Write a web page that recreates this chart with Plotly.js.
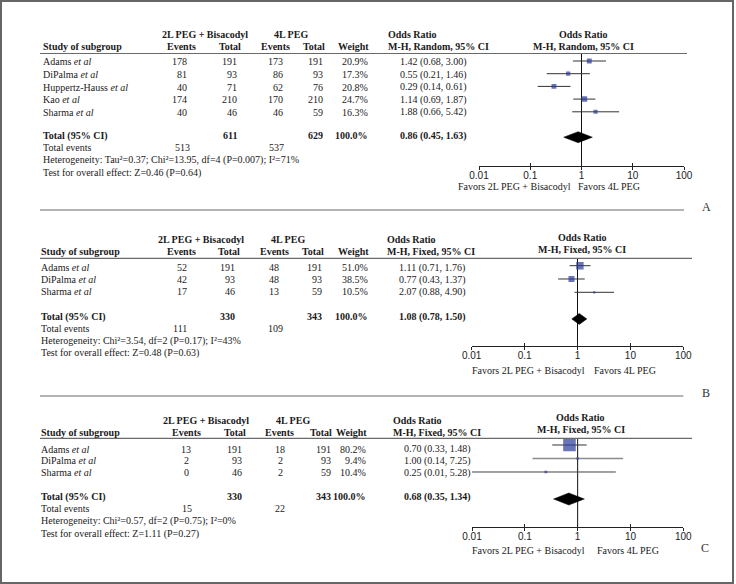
<!DOCTYPE html>
<html><head><meta charset="utf-8">
<script src="https://cdn.plot.ly/plotly-3.0.1.min.js"></script>
<style>html,body{margin:0;padding:0;background:#fff}#chart{width:736px;height:584px}</style>
</head><body><div id="chart"></div>
<script>
// ---------------- DATA ----------------
const groupLabels = ["2L PEG + Bisacodyl", "4L PEG"];
const favorsLabels = ["Favors 2L PEG + Bisacodyl", "Favors 4L PEG"];
const tickVals = [0.01, 0.1, 1, 10, 100];
const tickText = ["0.01", "0.1", "1", "10", "100"];
const panelLetters = ["A", "B", "C"];

// Panel A
const studiesA = ["Adams", "DiPalma", "Huppertz-Hauss", "Kao", "Sharma"];
const ev1A = [178, 81, 40, 174, 40];
const tot1A = [191, 93, 71, 210, 46];
const ev2A = [173, 86, 62, 170, 46];
const tot2A = [191, 93, 76, 210, 59];
const weightA = [20.9, 17.3, 20.8, 24.7, 16.3];
const orA = [1.42, 0.55, 0.29, 1.14, 1.88];
const loA = [0.68, 0.21, 0.14, 0.69, 0.66];
const hiA = [3.00, 1.46, 0.61, 1.87, 5.42];
const totalsA = [611, 629];
const totalEventsA = [513, 537];
const pooledA = [0.86, 0.45, 1.63];
const methodA = "M-H, Random, 95% CI";
const hetA = "Heterogeneity: Tau²=0.37; Chi²=13.95, df=4 (P=0.007); I²=71%";
const testA = "Test for overall effect: Z=0.46 (P=0.64)";

// Panel B
const studiesB = ["Adams", "DiPalma", "Sharma"];
const ev1B = [52, 42, 17];
const tot1B = [191, 93, 46];
const ev2B = [48, 48, 13];
const tot2B = [191, 93, 59];
const weightB = [51.0, 38.5, 10.5];
const orB = [1.11, 0.77, 2.07];
const loB = [0.71, 0.43, 0.88];
const hiB = [1.76, 1.37, 4.90];
const totalsB = [330, 343];
const totalEventsB = [111, 109];
const pooledB = [1.08, 0.78, 1.50];
const methodB = "M-H, Fixed, 95% CI";
const hetB = "Heterogeneity: Chi²=3.54, df=2 (P=0.17); I²=43%";
const testB = "Test for overall effect: Z=0.48 (P=0.63)";

// Panel C
const studiesC = ["Adams", "DiPalma", "Sharma"];
const ev1C = [13, 2, 0];
const tot1C = [191, 93, 46];
const ev2C = [18, 2, 2];
const tot2C = [191, 93, 59];
const weightC = [80.2, 9.4, 10.4];
const orC = [0.70, 1.00, 0.25];
const loC = [0.33, 0.14, 0.01];
const hiC = [1.48, 7.25, 5.28];
const totalsC = [330, 343];
const totalEventsC = [15, 22];
const pooledC = [0.68, 0.35, 1.34];
const methodC = "M-H, Fixed, 95% CI";
const hetC = "Heterogeneity: Chi²=0.57, df=2 (P=0.75); I²=0%";
const testC = "Test for overall effect: Z=1.11 (P=0.27)";

// ---------------- LAYOUT (pixel positions) ----------------
const W = 736, H = 584;
const SERIF = "Liberation Serif";
const SANS = "Liberation Sans";
const FS = 10;
const TXT = "#1a1a1a";
const BLUE = "#2b3a98";

const panels = [
  { studies: studiesA, ev1: ev1A, tot1: tot1A, ev2: ev2A, tot2: tot2A, w: weightA, or: orA, lo: loA, hi: hiA,
    totals: totalsA, tev: totalEventsA, pooled: pooledA, method: methodA, het: hetA, test: testA,
    ciColor: ["#333", "#333", "#333", "#333", "#333"], ciWidth: [1, 1, 1, 1, 1],
    L: { hdr1: 34.3, hdr2: 46.7, phdr1: 34.5, phdr2: 46.7, phx: 583, rule: 53.5, ruleX: [40, 687],
      t0: 62, tdy: 12.6, totY: 135.7, evY: 147.3, hetY: 160, testY: 173.3,
      m0: 61, mdy: 12.7, axisY: 165.7, xd: [479, 684], sz: 0.5, dh: 5.5,
      study: 41.7, ev1: [188, "right"], ev1h: 181.7, tot1: 238, tot1h: 242.3,
      ev2: [283.5, "right"], ev2h: 275, tot2: 323.5, tot2h: 325.7, wt: 368.5, wth: 369.5,
      orx: 399.3, orh: 386.7, g1: 205.3, g2: 290.5, te1: 182.5, te2: 276.3,
      favY: 186.5, favL: 456.7, favR: 576.5, letter: [706, 207], sep: [210, 40, 684] } },
  { studies: studiesB, ev1: ev1B, tot1: tot1B, ev2: ev2B, tot2: tot2B, w: weightB, or: orB, lo: loB, hi: hiB,
    totals: totalsB, tev: totalEventsB, pooled: pooledB, method: methodB, het: hetB, test: testB,
    ciColor: ["#333", "#333", "#333"], ciWidth: [1, 1, 1],
    L: { hdr1: 239, hdr2: 251, phdr1: 237, phdr2: 249, phx: 582, rule: 258.3, ruleX: [40, 692],
      t0: 267.7, tdy: 12, totY: 316.7, evY: 328.3, hetY: 341, testY: 353.3,
      m0: 265.7, mdy: 13.3, axisY: 346.2, xd: [471.7, 683.3], sz: 0.39, dh: 5.5,
      study: 40, ev1: [187.5, "right"], ev1h: 181, tot1: 236, tot1h: 240.7,
      ev2: [280, "right"], ev2h: 274.7, tot2: 323, tot2h: 325, wt: 368.5, wth: 369.5,
      orx: 397.7, orh: 386, g1: 201, g2: 288, te1: 180, te2: 275.5,
      favY: 370, favL: 470.7, favR: 592.7, letter: [706, 393.3], sep: [396, 40, 683.3] } },
  { studies: studiesC, ev1: ev1C, tot1: tot1C, ev2: ev2C, tot2: tot2C, w: weightC, or: orC, lo: loC, hi: hiC,
    totals: totalsC, tev: totalEventsC, pooled: pooledC, method: methodC, het: hetC, test: testC,
    ciColor: ["#333", "#8c8c8c", "#444"], ciWidth: [1, 1.6, 1],
    L: { hdr1: 420.7, hdr2: 432.3, phdr1: 417.7, phdr2: 430, phx: 580.5, rule: 438.3, ruleX: [40, 692],
      t0: 449, tdy: 11.9, totY: 496.7, evY: 508.3, hetY: 521, testY: 534,
      m0: 445, mdy: 13.5, axisY: 526.7, xd: [472, 683.3], sz: 0.47, dh: 6,
      study: 40, ev1: [186.5, "center"], ev1h: 186, tot1: 243.3, tot1h: 246.7,
      ev2: [280.3, "center"], ev2h: 279.8, tot2: 331.7, tot2h: 332.7, wt: 367, wth: 368,
      orx: 402.7, orh: 391.7, g1: 206, g2: 293, te1: 187, te2: 280,
      favY: 550, favL: 471, favR: 596, letter: [705, 548.3], sep: null } }
];

const layout = {
  width: W, height: H, margin: { l: 0, r: 0, t: 0, b: 0 },
  paper_bgcolor: "#fff", plot_bgcolor: "rgba(0,0,0,0)",
  showlegend: false, hovermode: false, annotations: [], shapes: []
};
const traces = [];

function T(text, x, y, xanchor, opts) {
  opts = opts || {};
  layout.annotations.push({
    text: String(text), x: x / W, y: 1 - y / H, xref: "paper", yref: "paper",
    xanchor: xanchor || "left", yanchor: "middle", showarrow: false, borderpad: 0,
    font: { family: opts.family || SERIF, size: opts.size || FS, color: opts.color || TXT }
  });
}
function hline(y, x0, x1, color, width) {
  layout.shapes.push({ type: "line", xref: "paper", yref: "paper",
    x0: x0 / W, x1: x1 / W, y0: 1 - y / H, y1: 1 - y / H, line: { color: color, width: width } });
}
const b = s => "<b>" + s + "</b>";
const f2 = v => v.toFixed(2);
const fmtOR = (e, l, h) => f2(e) + " (" + f2(l) + ", " + f2(h) + ")";

// outer frame
layout.shapes.push({ type: "rect", xref: "paper", yref: "paper", x0: 1 / W, x1: 733 / W, y0: 1 - 1 / H, y1: 1 - 583 / H,
  line: { color: "#666", width: 2 } });

panels.forEach((P, idx) => {
  const L = P.L;
  const k = idx === 0 ? "" : String(idx + 1);
  const ko = String(idx + 4);
  const n = P.studies.length;
  const rowTop = (L.rule - L.m0) / L.mdy;
  const rowBot = (L.axisY - L.m0) / L.mdy;

  layout["xaxis" + k] = {
    type: "log", domain: [L.xd[0] / W, L.xd[1] / W], range: [-2, 2], anchor: "y" + k,
    showgrid: false, zeroline: false, showline: true, linecolor: "#222", linewidth: 1,
    ticks: "inside", ticklen: 3, tickcolor: "#222", tickwidth: 1,
    tickvals: tickVals, ticktext: tickText,
    tickfont: { family: SANS, size: 10, color: "#222" }, fixedrange: true
  };
  layout["xaxis" + ko] = {
    type: "log", overlaying: "x" + k, anchor: "y" + k, side: "bottom", range: [-2, 2],
    showgrid: false, zeroline: false, showline: false, ticks: "outside", ticklen: 3,
    tickcolor: "#222", tickwidth: 1, tickvals: tickVals, showticklabels: false, fixedrange: true
  };
  layout["yaxis" + k] = {
    domain: [1 - L.axisY / H, 1 - L.rule / H], range: [rowBot, rowTop], anchor: "x" + k,
    showgrid: false, zeroline: false, showline: false, showticklabels: false, ticks: "", fixedrange: true
  };

  traces.push({ type: "scatter", mode: "lines", x: [null], y: [null], xaxis: "x" + ko, yaxis: "y" + k, hoverinfo: "skip" });
  // null line
  traces.push({ type: "scatter", mode: "lines", x: [1, 1], y: [rowTop, rowBot], xaxis: "x" + k, yaxis: "y" + k,
    line: { color: "#111", width: 1 }, hoverinfo: "skip", cliponaxis: false });
  // CIs
  for (let i = 0; i < n; i++) {
    traces.push({ type: "scatter", mode: "lines", x: [P.lo[i], P.hi[i]], y: [i, i], xaxis: "x" + k, yaxis: "y" + k,
      line: { color: P.ciColor[i], width: P.ciWidth[i] }, hoverinfo: "skip", cliponaxis: false });
  }
  // study squares
  traces.push({ type: "scatter", mode: "markers", x: P.or, y: P.studies.map((s, i) => i), xaxis: "x" + k, yaxis: "y" + k,
    marker: { symbol: "square", color: BLUE, size: P.w.map(w => L.sz * Math.pow(w, 0.75)), line: { width: 0 } },
    hoverinfo: "skip" });
  // pooled diamond
  const r = n + 1, h = L.dh / L.mdy;
  traces.push({ type: "scatter", mode: "lines", fill: "toself", fillcolor: "#000",
    x: [P.pooled[1], P.pooled[0], P.pooled[2], P.pooled[0], P.pooled[1]],
    y: [r, r - h, r, r + h, r], xaxis: "x" + k, yaxis: "y" + k,
    line: { color: "#000", width: 0.5 }, hoverinfo: "skip", cliponaxis: false });

  // lines
  hline(L.rule, L.ruleX[0], L.ruleX[1], "#6a6a6a", 1.2);
  if (L.sep) hline(L.sep[0], L.sep[1], L.sep[2], "#6a6a6a", 1.2);

  // headers
  T(b(groupLabels[0]), L.g1, L.hdr1, "center");
  T(b(groupLabels[1]), L.g2, L.hdr1, "center");
  T(b("Odds Ratio"), L.orh, L.hdr1, "left");
  T(b("Study of subgroup"), L.study, L.hdr2, "left");
  T(b("Events"), L.ev1h, L.hdr2, "center");
  T(b("Total"), L.tot1h, L.hdr2, "right");
  T(b("Events"), L.ev2h, L.hdr2, "center");
  T(b("Total"), L.tot2h, L.hdr2, "right");
  T(b("Weight"), L.wth, L.hdr2, "right");
  T(b(P.method), L.orh, L.hdr2, "left");
  T(b("Odds Ratio"), L.phx, L.phdr1, "center");
  T(b(P.method), L.phx, L.phdr2, "center");

  // rows
  for (let i = 0; i < n; i++) {
    const y = L.t0 + i * L.tdy;
    T(P.studies[i] + " <i>et al</i>", L.study, y, "left");
    T(P.ev1[i], L.ev1[0], y, L.ev1[1]);
    T(P.tot1[i], L.tot1, y, "right");
    T(P.ev2[i], L.ev2[0], y, L.ev2[1]);
    T(P.tot2[i], L.tot2, y, "right");
    T(P.w[i].toFixed(1) + "%", L.wt, y, "right");
    T(fmtOR(P.or[i], P.lo[i], P.hi[i]), L.orx, y, "left");
  }
  const wsum = P.w.reduce((a, c) => a + c, 0);
  T(b("Total (95% CI)"), L.study, L.totY, "left");
  T(b(P.totals[0]), L.tot1, L.totY, "right");
  T(b(P.totals[1]), L.tot2, L.totY, "right");
  T(b(wsum.toFixed(1) + "%"), L.wt, L.totY, "right");
  T(b(fmtOR(P.pooled[0], P.pooled[1], P.pooled[2])), L.orx, L.totY, "left");
  T("Total events", L.study, L.evY, "left");
  T(P.tev[0], L.te1, L.evY, "center");
  T(P.tev[1], L.te2, L.evY, "center");
  T(P.het, L.study, L.hetY, "left");
  T(P.test, L.study, L.testY, "left");

  // favours + letter
  T(favorsLabels[0], L.favL, L.favY, "left");
  T(favorsLabels[1], L.favR, L.favY, "left");
  T(panelLetters[idx], L.letter[0], L.letter[1], "center", { size: 12, color: "#333" });
});

Plotly.newPlot("chart", traces, layout, { staticPlot: true, displayModeBar: false });
</script></body></html>
